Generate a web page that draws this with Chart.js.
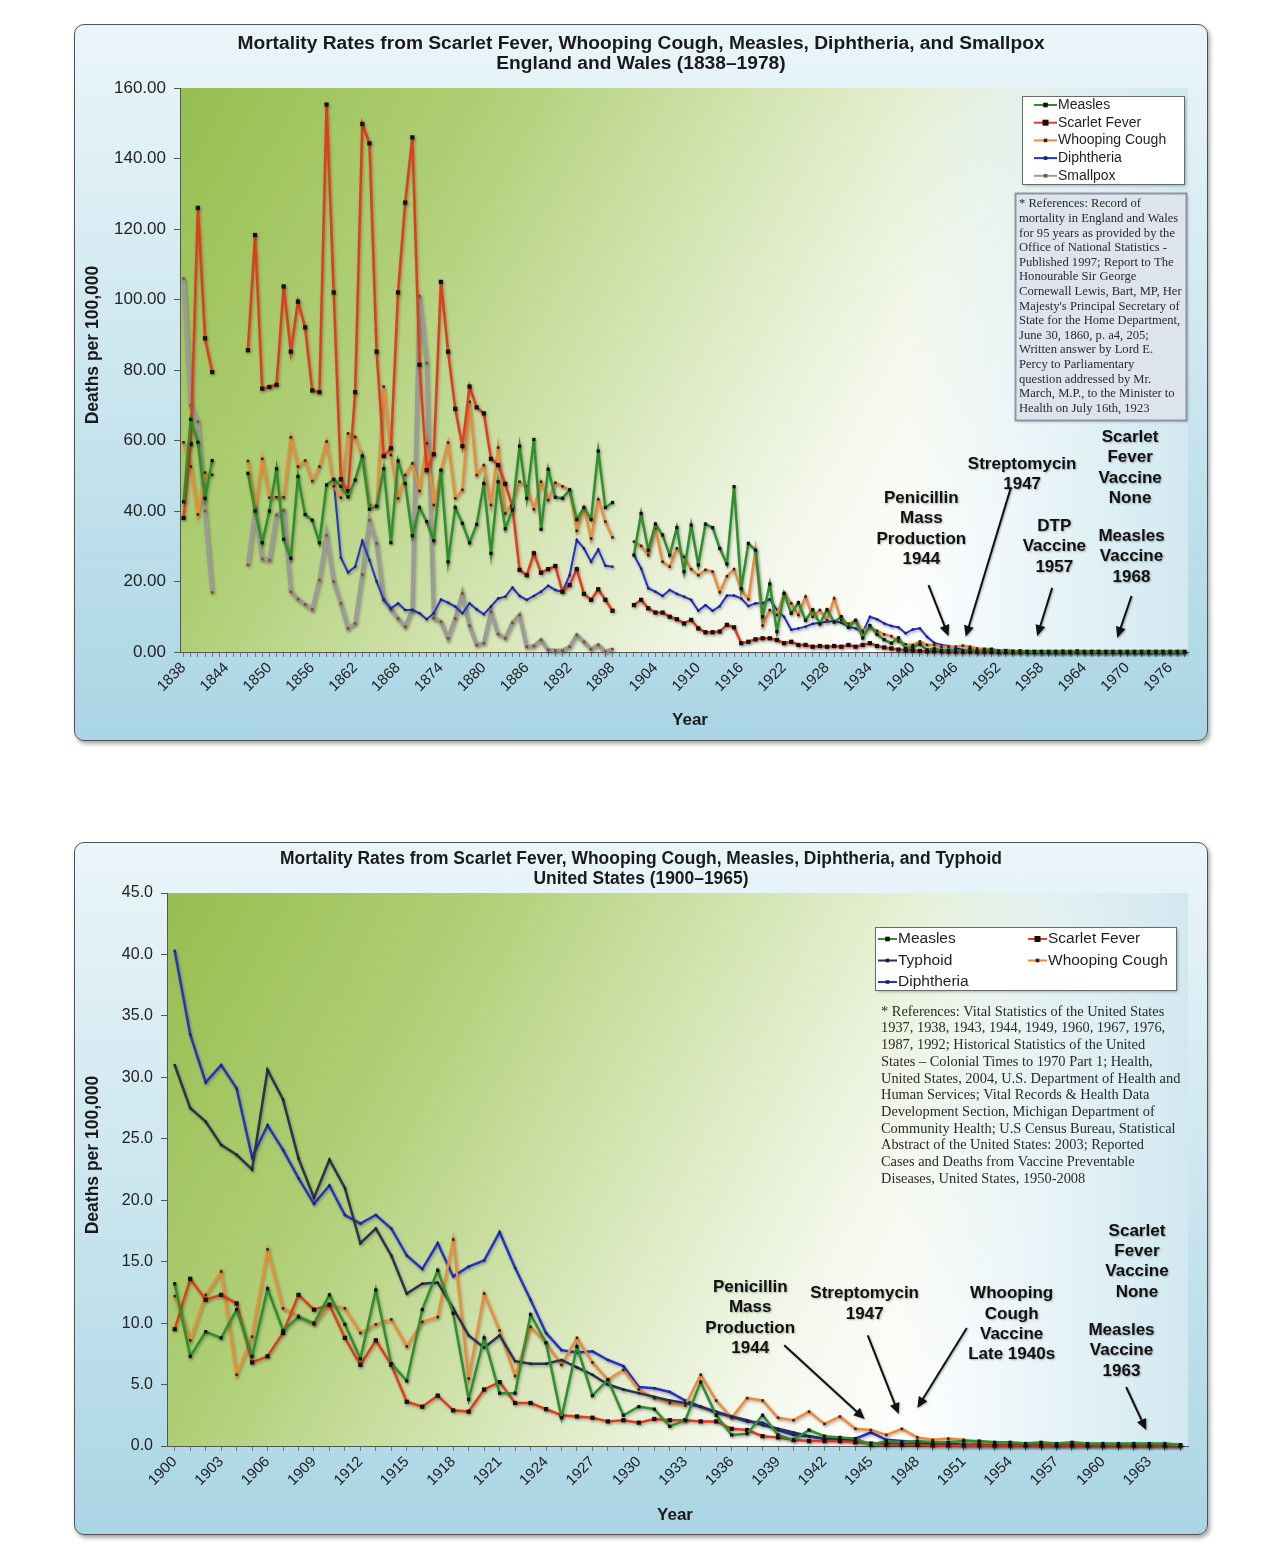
<!DOCTYPE html>
<html>
<head>
<meta charset="utf-8">
<title>Mortality Rates</title>
<script src="https://cdn.jsdelivr.net/npm/chart.js@4.4.1/dist/chart.umd.min.js"></script>
<style>
  body { margin: 0; background: #fff; }
  .panel { position: absolute; left: 74px; width: 1134px; box-sizing: border-box; border: 1.5px solid #505050; border-radius: 10px;
    background: linear-gradient(180deg, #eaf5f9 0%, #d2e9f1 40%, #aad5e4 100%);
    box-shadow: 2px 3px 4px rgba(0,0,0,0.35); }
  #p1 { top: 24px; height: 717px; }
  #p2 { top: 842px; height: 693px; }
  canvas { position: absolute; left: 74px; }
</style>
</head>
<body>
<div class="panel" id="p1"></div>
<div class="panel" id="p2"></div>
<canvas id="ukChart" width="1134" height="717" style="top:24px"></canvas>
<canvas id="usChart" width="1134" height="693" style="top:842px"></canvas>
<script>
const FONT = '"Liberation Sans", Arial, sans-serif';
const SERIF = '"Liberation Serif", "DejaVu Serif", serif';

// ---- England and Wales, 1838-1978 (deaths per 100,000; null = no data) ----
const ukFirstYear = 1838;
const ukLastYear = 1978;

const ukMeasles = [
  42.6, 66, 59.5, 43.6, 54.3, null, null, null, null, 50.7,      // 1838-1847
  40, 31, 40, 52, 32, 26.6, 49.8, 39, 37.4, 31,                   // 1848-1857
  47.4, 49, 47, 44, 48.8, 55.6, 40.5, 41.4, 52, 31,               // 1858-1867
  54.2, 47.8, 33, 41, 37, 31.6, 51.6, 25.6, 41, 36.5,             // 1868-1877
  31, 36.2, 47.8, 28, 48.3, 35, 40.3, 58.4, 43.6, 60.3,           // 1878-1887
  34.8, 51.8, 43.9, 43.6, 46, 37.6, 41, 37.6, 57, 41,             // 1888-1897
  42.4, null, null, 27.5, 39.3, 28.9, 36.3, 33.2, 27.5, 35.3,     // 1898-1907
  22.8, 36, 24.7, 36.3, 35.3, 29.4, 25, 46.9, 18, 30.8,           // 1908-1917
  28.9, 10, 19.3, 5.8, 16.6, 11, 14, 9, 12, 8,                    // 1918-1927
  12, 8.5, 10, 7, 9, 4, 7.5, 5, 3.5, 2.5,                         // 1928-1937
  4, 1, 1.5, 2.2, 0.6, 0.9, 0.5, 0.5, 0.4, 0.3,                   // 1938-1947
  0.8, 0.2, 0.5, 0.8, 0.1, 0.4, 0.1, 0.3, 0.1, 0.1,               // 1948-1957
  0.1, 0.1, 0.1, 0.2, 0.1, 0.3, 0.1, 0.1, 0.1, 0.1,               // 1958-1967
  0.1, 0.05, 0.05, 0.05, 0.05, 0.05, 0.05, 0.05, 0.05, 0.05,      // 1968-1977
  0.05                                                            // 1978
];
const ukScarletFever = [
  38, 59, 126, 89, 79.4, null, null, null, null, 85.6,
  118.3, 74.7, 75.2, 75.8, 103.7, 85.2, 99.4, 92.1, 74.2, 73.7,
  155.3, 102, 49, 45.6, 73.7, 149.8, 144.3, 85.2, 55.6, 57.8,
  102, 127.5, 146, 81.5, 51.6, 56.1, 105, 85.2, 69, 58.4,
  75.3, 69.4, 67.7, 54.8, 53, 47.7, 41.2, 23.3, 21.8, 28,
  22.5, 23.5, 24.4, 17.1, 19, 23.5, 16.5, 14.8, 17.8, 14.8,
  11.7, null, null, 13.3, 14.8, 12.4, 11.2, 11.2, 10, 9.3,
  8.1, 9.1, 6.7, 5.6, 5.6, 5.8, 7.7, 7, 2.5, 2.9,
  3.6, 3.9, 3.9, 3.4, 2.5, 2.9, 2, 2, 1.5, 1.7,
  1.5, 1.7, 1.5, 2, 1.5, 2, 2.5, 1.7, 1.3, 1,
  0.7, 0.5, 0.5, 0.3, 0.2, 0.2, 0.2, 0.1, 0.1, 0.1,
  0.1, 0.1, 0.1, 0.05, 0.05, 0.05, 0.05, 0.05, 0.05, 0.05,
  0.05, 0.05, 0.05, 0.05, 0.05, 0.05, 0.05, 0.05, 0.05, 0.05,
  0.05, 0.05, 0.05, 0.05, 0.05, 0.05, 0.05, 0.05, 0.05, 0.05,
  0.05
];
const ukWhoopingCough = [
  59.5, 52.6, 39, 50.9, 50.3, null, null, null, null, 54.2,
  40.8, 54.8, 43.8, 43.9, 43.9, 60.9, 52.6, 54.3, 48.5, 52.6,
  59.7, 47, 43.8, 62, 61, 55.4, 41.7, 41.4, 75.3, 55.9,
  43.6, 50.2, 53.5, 45.7, 59.2, 41.7, 51.6, 59.4, 43.6, 46,
  71, 50.2, 53, 41.7, 58, 39.3, 42.4, 48.3, 47, 40.5,
  48.3, 43.1, 48, 47, 46, 34.4, 41, 32.2, 43.3, 37,
  32.5, null, null, 31.3, 30.1, 27.5, 35.1, 25.6, 24.2, 29.4,
  27, 23.5, 21.8, 23.3, 22.8, 17, 21.5, 23.5, 17.6, 15,
  28.9, 7.5, 11.9, 10.5, 16.8, 13.8, 10.5, 15.7, 10, 11.9,
  9, 15.2, 9, 8, 9, 6, 7, 6, 5, 4.5,
  3, 2.2, 2, 3, 2, 2, 1.5, 1.5, 1.5, 1.8,
  1.5, 1, 0.9, 0.8, 0.4, 0.5, 0.3, 0.2, 0.2, 0.2,
  0.1, 0.1, 0.05, 0.05, 0.05, 0.05, 0.05, 0.05, 0.05, 0.05,
  0.05, 0.05, 0.05, 0.05, 0.05, 0.05, 0.05, 0.05, 0.05, 0.05,
  0.05
];
const ukDiphtheria = [
  null, null, null, null, null, null, null, null, null, null,
  null, null, null, null, null, null, null, null, null, null,
  null, 48.8, 26.8, 22.6, 24.2, 31.5, 26.1, 20, 14.8, 12.4,
  13.8, 11.9, 11.9, 11, 9.3, 11, 14.9, 14, 12.9, 11,
  13.8, 12.1, 10.7, 12.9, 15.2, 15.7, 18.3, 15.9, 14.8, 15.9,
  17.1, 18.8, 17.6, 17.1, 21.8, 31.8, 29.4, 25.6, 29.1, 24.5,
  24.2, null, null, 27.5, 23.7, 18.1, 17.1, 15.9, 17.6, 16.5,
  15.7, 14.8, 11.7, 13.3, 11.7, 13, 16, 16, 15.2, 13,
  13.8, 13.8, 15, 12, 10, 6.3, 6.7, 7.2, 8, 8.3,
  8.6, 8.8, 8.3, 7.2, 6.7, 5.5, 10, 9.3, 8.1, 7.4,
  7, 5.3, 6.4, 6.7, 4.3, 2.6, 2, 1.7, 1.2, 0.6,
  0.4, 0.2, 0.1, 0.05, 0.05, 0.05, 0.05, 0.05, 0.05, 0.05,
  0.05, 0.05, 0.05, 0.05, 0.05, 0.05, 0.05, 0.05, 0.05, 0.05,
  0.05, 0.05, 0.05, 0.05, 0.05, 0.05, 0.05, 0.05, 0.05, 0.05,
  0.05
];
const ukSmallpox = [
  106, 70, 65.3, 40, 16.9, null, null, null, null, 24.7,
  40, 26.4, 26.1, 38.9, 40.1, 17.1, 15, 13.5, 12.1, 20.4,
  33.1, 20, 13.8, 6.7, 8.1, 22, 37.4, 30.8, 14.9, 12.1,
  9.5, 7.2, 12, 101, 82, 9.6, 8.6, 3.9, 9.5, 16.6,
  7.5, 2, 2.5, 11.4, 5.1, 3.9, 8.3, 10.5, 1.5, 1.7,
  3.4, 0.6, 0.4, 0.4, 1.5, 4.8, 2.9, 0.8, 2, 0.1,
  0.8
];

// ---- United States, 1900-1965 ----
const usFirstYear = 1900;
const usLastYear = 1965;

const usMeasles = [
  13.2, 7.3, 9.3, 8.8, 11.1, 7.3, 12.8, 9.4, 10.5, 10,            // 1900-1909
  12.3, 9.9, 7.1, 12.7, 6.7, 5.3, 11.1, 14.3, 10.8, 3.8,          // 1910-1919
  8.8, 4.3, 4.3, 10.7, 8.4, 2.3, 8.1, 4.1, 5.4, 2.5,              // 1920-1929
  3.2, 3, 1.6, 2.1, 5.2, 2.5, 0.9, 1, 2.5, 0.9,                   // 1930-1939
  0.5, 1.3, 0.8, 0.7, 0.6, 0.1, 0.4, 0.3, 0.4, 0.3,               // 1940-1949
  0.3, 0.4, 0.4, 0.3, 0.3, 0.2, 0.3, 0.2, 0.3, 0.2,               // 1950-1959
  0.2, 0.2, 0.2, 0.2, 0.2, 0.1                                    // 1960-1965
];
const usScarletFever = [
  9.5, 13.6, 11.9, 12.3, 11.6, 6.8, 7.3, 9.2, 12.3, 11.1,
  11.5, 8.8, 6.6, 8.6, 6.6, 3.6, 3.2, 4.1, 2.9, 2.8,
  4.6, 5.2, 3.5, 3.5, 3, 2.5, 2.4, 2.3, 2, 2.1,
  1.9, 2.2, 2.1, 2.1, 2, 2, 1.4, 1.3, 0.8, 0.7,
  0.5, 0.4, 0.4, 0.4, 0.3, 0.2, 0.1, 0.1, 0.1, 0.05,
  0.05, 0.05, 0.05, 0.05, 0.05, 0.05, 0.05, 0.05, 0.05, 0.05,
  0.05, 0.05, 0.05, 0.05, 0.05, 0.05
];
const usTyphoid = [
  31, 27.5, 26.4, 24.5, 23.7, 22.5, 30.6, 28.2, 23.4, 20.2,
  23.3, 21, 16.5, 17.7, 15.5, 12.4, 13.2, 13.3, 11.2, 9,
  8, 9, 6.9, 6.7, 6.7, 7, 6.4, 5.8, 5, 4.6,
  4.3, 4, 3.7, 3.5, 3.2, 2.7, 2.4, 2.1, 1.7, 1.4,
  1.1, 0.8, 0.6, 0.5, 0.4, 0.2, 0.2, 0.2, 0.1, 0.1,
  0.1, 0.05, 0.05, 0.05, 0.05, 0.05, 0.05, 0.05, 0.05, 0.05,
  0.05, 0.05, 0.05, 0.05, 0.05, 0.05
];
const usWhoopingCough = [
  12.2, 8.6, 12.3, 14.2, 5.8, 8.9, 16, 11.2, 10.6, 9.9,
  11.5, 11.2, 9.2, 9.9, 10.3, 8.1, 10.1, 10.5, 16.8, 5.5,
  12.4, 9.4, 5.7, 9.7, 8.4, 6.6, 8.8, 6.8, 5.4, 6.2,
  4.6, 3.9, 3.5, 3.3, 5.8, 3.7, 2.3, 3.9, 3.7, 2.3,
  2.1, 2.8, 1.8, 2.4, 1.4, 1.3, 0.9, 1.4, 0.7, 0.5,
  0.6, 0.5, 0.3, 0.2, 0.2, 0.2, 0.1, 0.1, 0.1, 0.1,
  0.1, 0.1, 0.1, 0.05, 0.05, 0.05
];
const usDiphtheria = [
  40.3, 33.5, 29.6, 31, 29.1, 23.5, 26.1, 24.1, 21.8, 19.7,
  21.2, 18.8, 18.1, 18.8, 17.7, 15.5, 14.4, 16.5, 13.8, 14.6,
  15.1, 17.4, 14.5, 11.9, 9.2, 7.8, 7.6, 7.7, 7, 6.5,
  4.8, 4.7, 4.4, 3.7, 3.2, 2.8, 2.4, 2, 1.9, 1.3,
  0.9, 0.8, 0.6, 0.6, 0.6, 1.1, 0.5, 0.4, 0.3, 0.2,
  0.2, 0.1, 0.1, 0.05, 0.05, 0.05, 0.05, 0.05, 0.05, 0.05,
  0.05, 0.05, 0.05, 0.05, 0.05, 0.05
];

const ukYears = [];
for (let yr = ukFirstYear; yr <= ukLastYear; yr++) ukYears.push(String(yr));
const usYears = [];
for (let yr = usFirstYear; yr <= usLastYear; yr++) usYears.push(String(yr));

const ukRefs = [
  '* References: Record of',
  'mortality in England and Wales',
  'for 95 years as provided by the',
  'Office of National Statistics -',
  'Published 1997; Report to The',
  'Honourable Sir George',
  'Cornewall Lewis, Bart, MP, Her',
  "Majesty's Principal Secretary of",
  'State for the Home Department,',
  'June 30, 1860, p. a4, 205;',
  'Written answer by Lord E.',
  'Percy to Parliamentary',
  'question addressed by Mr.',
  'March, M.P., to the Minister to',
  'Health on July 16th, 1923'
];
const usRefs = [
  '* References: Vital Statistics of the United States',
  '1937, 1938, 1943, 1944, 1949, 1960, 1967, 1976,',
  '1987, 1992; Historical Statistics of the United',
  'States \u2013 Colonial Times to 1970 Part 1; Health,',
  'United States, 2004, U.S. Department of Health and',
  'Human Services; Vital Records & Health Data',
  'Development Section, Michigan Department of',
  'Community Health; U.S Census Bureau, Statistical',
  'Abstract of the United States: 2003; Reported',
  'Cases and Deaths from Vaccine Preventable',
  'Diseases, United States, 1950-2008'
];

// annotation text anchored in (year, value) space
const ukNotes = [
  { lines: ['Penicillin', 'Mass', 'Production', '1944'], at: [1941.2, 43.7], arrow: [[1942.2, 19], [1945, 4.5]] },
  { lines: ['Streptomycin', '1947'], at: [1955.3, 53.3], arrow: [[1953.7, 46.5], [1947.4, 4.3]] },
  { lines: ['Scarlet', 'Fever', 'Vaccine', 'None'], at: [1970.4, 61] },
  { lines: ['DTP', 'Vaccine', '1957'], at: [1959.8, 35.7], arrow: [[1959.5, 18.2], [1957.4, 4.5]] },
  { lines: ['Measles', 'Vaccine', '1968'], at: [1970.6, 32.9], arrow: [[1970.6, 15.9], [1968.6, 4]] }
];
const usNotes = [
  { lines: ['Penicillin', 'Mass', 'Production', '1944'], at: [1937.2, 12.9], arrow: [[1939.4, 8.2], [1944.6, 2.2]] },
  { lines: ['Streptomycin', '1947'], at: [1944.6, 12.4], arrow: [[1944.8, 9], [1946.8, 2.6]] },
  { lines: ['Whooping', 'Cough', 'Vaccine', 'Late 1940s'], at: [1954.1, 12.4], arrow: [[1951.2, 9.6], [1948, 3.1]] },
  { lines: ['Scarlet', 'Fever', 'Vaccine', 'None'], at: [1962.2, 17.5] },
  { lines: ['Measles', 'Vaccine', '1963'], at: [1961.2, 9.4], arrow: [[1961.5, 4.8], [1962.8, 1.3]] }
];

const plotBackground = {
  id: 'plotBackground',
  beforeDraw(chart) {
    const { ctx, chartArea: a } = chart;
    const w = a.right - a.left, h = a.bottom - a.top;
    ctx.save();
    const g = ctx.createLinearGradient(a.left, a.top, a.left + w * 0.8, a.top + h * 0.8);
    g.addColorStop(0, '#96be50');
    g.addColorStop(0.3, '#b0cf76');
    g.addColorStop(0.58, '#d7e6b8');
    g.addColorStop(0.82, '#f4f8ed');
    g.addColorStop(1, '#ffffff');
    ctx.fillStyle = g;
    ctx.fillRect(a.left, a.top, w, h);
    const b = ctx.createLinearGradient(a.left + w * 0.72, 0, a.right, 0);
    b.addColorStop(0, 'rgba(205,230,239,0)');
    b.addColorStop(1, 'rgba(205,230,239,0.9)');
    ctx.fillStyle = b;
    ctx.fillRect(a.left, a.top, w, h);
    ctx.restore();
  }
};

const lineShadow = {
  id: 'lineShadow',
  beforeDatasetsDraw(chart) {
    const c = chart.ctx;
    c.save();
    c.shadowColor = 'rgba(0,0,0,0.3)';
    c.shadowBlur = 3;
    c.shadowOffsetX = 1;
    c.shadowOffsetY = 1.5;
  },
  afterDatasetsDraw(chart) {
    chart.ctx.restore();
  }
};

function drawArrow(ctx, x0, y0, x1, y1) {
  const ang = Math.atan2(y1 - y0, x1 - x0), hl = 11, hw = 5;
  const cos = Math.cos(ang), sin = Math.sin(ang);
  ctx.beginPath();
  ctx.moveTo(x0, y0);
  ctx.lineTo(x1 - hl * 0.8 * cos, y1 - hl * 0.8 * sin);
  ctx.stroke();
  ctx.beginPath();
  ctx.moveTo(x1, y1);
  ctx.lineTo(x1 - hl * cos + hw * sin, y1 - hl * sin - hw * cos);
  ctx.lineTo(x1 - hl * cos - hw * sin, y1 - hl * sin + hw * cos);
  ctx.closePath();
  ctx.fill();
}

function legendIcon(ctx, ds, lx, ly, len) {
  ctx.strokeStyle = ds.borderColor;
  ctx.lineWidth = 2;
  ctx.beginPath();
  ctx.moveTo(lx, ly);
  ctx.lineTo(lx + len, ly);
  ctx.stroke();
  ctx.fillStyle = ds.pointBackgroundColor;
  const r = Math.max(ds.pointRadius, 1.8);
  ctx.fillRect(lx + len / 2 - r, ly - r, r * 2, r * 2);
}

// titles, axis titles, legend, references and annotations
const decor = {
  id: 'decor',
  afterDraw(chart, args, o) {
    const { ctx, chartArea: a, scales: { x, y } } = chart;
    const first = o.firstYear;
    const px = yr => x.getPixelForValue(yr - first);
    ctx.save();
    ctx.fillStyle = '#1a1a1a';
    ctx.textAlign = 'center';
    ctx.textBaseline = 'middle';

    // title, sized to the width of its first line
    let size = 20;
    ctx.font = `bold ${size}px ${FONT}`;
    size = size * o.titleWidth / ctx.measureText(o.title[0]).width;
    ctx.font = `bold ${size.toFixed(2)}px ${FONT}`;
    o.title.forEach((t, i) => ctx.fillText(t, o.titleX, o.titleY + i * o.titleGap));

    ctx.font = `bold 17px ${FONT}`;
    ctx.fillText('Year', o.yearPos[0], o.yearPos[1]);
    ctx.save();
    ctx.translate(19, o.yTitleY);
    ctx.rotate(-Math.PI / 2);
    ctx.font = `bold 17.5px ${FONT}`;
    ctx.fillText('Deaths per 100,000', 0, 0);
    ctx.restore();

    // legend box
    const lg = o.legend;
    const bx = a.right - lg.right, by = a.top + lg.top;
    ctx.save();
    ctx.shadowColor = 'rgba(0,0,0,0.35)';
    ctx.shadowBlur = 3;
    ctx.shadowOffsetX = 1.5;
    ctx.shadowOffsetY = 1.5;
    ctx.fillStyle = '#ffffff';
    ctx.fillRect(bx, by, lg.w, lg.h);
    ctx.restore();
    ctx.strokeStyle = '#6a6a6a';
    ctx.lineWidth = 1;
    ctx.strokeRect(bx + 0.5, by + 0.5, lg.w, lg.h);
    ctx.font = `${lg.font}px ${FONT}`;
    ctx.textBaseline = 'middle';
    chart.data.datasets.forEach((ds, i) => {
      const col = i % lg.cols, row = Math.floor(i / lg.cols);
      const ix = bx + lg.iconX + col * lg.colGap, iy = by + lg.rowY + row * lg.rowGap;
      legendIcon(ctx, ds, ix, iy, lg.iconLen);
      ctx.fillStyle = '#1e1e1e';
      ctx.textAlign = 'left';
      ctx.fillText(ds.label, ix + lg.iconLen + 1, iy);
    });

    // references
    const rf = o.refs;
    const rx = a.right - rf.right, ry = a.top + rf.top;
    if (rf.box) {
      ctx.save();
      ctx.shadowColor = 'rgba(0,0,0,0.3)';
      ctx.shadowBlur = 3;
      ctx.shadowOffsetX = 1.5;
      ctx.shadowOffsetY = 1.5;
      ctx.fillStyle = '#dde4ee';
      ctx.fillRect(rx, ry, rf.w, rf.h);
      ctx.restore();
      ctx.strokeStyle = '#8c95a3';
      ctx.strokeRect(rx + 0.5, ry + 0.5, rf.w, rf.h);
    }
    ctx.font = `${rf.font}px ${SERIF}`;
    ctx.fillStyle = '#2a2a2a';
    ctx.textAlign = 'left';
    rf.lines.forEach((t, i) => ctx.fillText(t, rx + rf.padX, ry + rf.firstY + i * rf.gap));

    // annotations with arrows
    ctx.font = `bold 17px ${FONT}`;
    ctx.textAlign = 'center';
    ctx.fillStyle = '#111';
    ctx.strokeStyle = '#111';
    ctx.lineWidth = 2;
    ctx.shadowColor = 'rgba(0,0,0,0.3)';
    ctx.shadowBlur = 2;
    ctx.shadowOffsetX = 1;
    ctx.shadowOffsetY = 1;
    o.notes.forEach(n => {
      const tx = px(n.at[0]), ty = y.getPixelForValue(n.at[1]);
      n.lines.forEach((t, i) => ctx.fillText(t, tx, ty + i * o.noteGap));
      if (n.arrow) {
        const [p0, p1] = n.arrow;
        drawArrow(ctx, px(p0[0]), y.getPixelForValue(p0[1]), px(p1[0]), y.getPixelForValue(p1[1]));
      }
    });
    ctx.restore();
  }
};

function seriesStyle(label, data, color, width, radius, pointColor, style) {
  return {
    label: label,
    data: data,
    borderColor: color,
    backgroundColor: color,
    borderWidth: width,
    pointRadius: radius,
    pointStyle: style || 'rect',
    pointBackgroundColor: pointColor,
    pointBorderColor: pointColor,
    pointBorderWidth: 0,
    tension: 0,
    spanGaps: false,
    clip: false
  };
}

function axisOptions(firstYear, step, yMax, yStep, digits, yWidth, yFont) {
  return {
    x: {
      type: 'category',
      offset: true,
      afterFit: s => { s.height = 89; },
      grid: { display: true, drawOnChartArea: false, drawTicks: true, tickLength: 5, color: '#777', offset: false },
      border: { display: true, color: '#555', width: 1 },
      ticks: {
        autoSkip: false,
        minRotation: 45,
        maxRotation: 45,
        padding: 2,
        color: '#222',
        font: { family: FONT, size: 15 },
        callback: function (value, index) {
          return index % step === 0 ? String(firstYear + index) : '';
        }
      }
    },
    y: {
      min: 0,
      max: yMax,
      afterFit: s => { s.width = yWidth; },
      grid: { display: true, drawOnChartArea: false, drawTicks: true, tickLength: 6, color: '#555' },
      border: { display: true, color: '#555', width: 1 },
      ticks: {
        stepSize: yStep,
        padding: 8,
        color: '#222',
        font: { family: FONT, size: yFont },
        callback: v => v.toFixed(digits)
      }
    }
  };
}

function generateUkChart() {
  const ctx = document.getElementById('ukChart').getContext('2d');
  new Chart(ctx, {
    type: 'line',
    data: {
      labels: ukYears,
      datasets: [
        seriesStyle('Measles', ukMeasles, '#2f8f2c', 2.5, 2.3, '#111'),
        seriesStyle('Scarlet Fever', ukScarletFever, '#e53a1e', 2.5, 3, '#1c0c0a'),
        seriesStyle('Whooping Cough', ukWhoopingCough, '#ef8b3b', 2.5, 1.8, '#3b1e0c'),
        seriesStyle('Diphtheria', ukDiphtheria, '#2633c6', 2, 1.6, '#18207a'),
        seriesStyle('Smallpox', ukSmallpox, '#9b9b97', 4, 1.8, '#8a4a1e')
      ]
    },
    options: {
      responsive: false,
      animation: false,
      events: [],
      layout: { padding: { top: 64, right: 20, left: 0, bottom: 0 } },
      scales: axisOptions(ukFirstYear, 6, 160, 20, 2, 106, 17),
      plugins: {
        legend: { display: false },
        tooltip: { enabled: false },
        decor: {
          firstYear: ukFirstYear,
          title: ['Mortality Rates from Scarlet Fever, Whooping Cough, Measles, Diphtheria, and Smallpox', 'England and Wales (1838\u20131978)'],
          titleWidth: 807, titleX: 567, titleY: 20, titleGap: 19.5,
          yearPos: [616, 696], yTitleY: 321,
          legend: { right: 166, top: 8, w: 162, h: 88, cols: 1, colGap: 0, iconX: 12, iconLen: 23, rowY: 9, rowGap: 17.7, font: 14 },
          refs: { box: true, right: 173, top: 105, w: 171, h: 227, padX: 4, firstY: 11, gap: 14.6, font: 12.6, lines: ukRefs },
          notes: ukNotes, noteGap: 20.5
        }
      }
    },
    plugins: [plotBackground, lineShadow, decor]
  });
}

function generateUsChart() {
  const ctx = document.getElementById('usChart').getContext('2d');
  new Chart(ctx, {
    type: 'line',
    data: {
      labels: usYears,
      datasets: [
        seriesStyle('Measles', usMeasles, '#2f8f2c', 2.5, 2.3, '#111'),
        seriesStyle('Scarlet Fever', usScarletFever, '#e53a1e', 2.5, 3, '#1c0c0a'),
        seriesStyle('Typhoid', usTyphoid, '#2c3350', 2.5, 1.6, '#1a1f33'),
        seriesStyle('Whooping Cough', usWhoopingCough, '#ef8b3b', 2.5, 1.8, '#3b1e0c'),
        seriesStyle('Diphtheria', usDiphtheria, '#2633c6', 2.5, 1.6, '#18207a')
      ]
    },
    options: {
      responsive: false,
      animation: false,
      events: [],
      layout: { padding: { top: 51, right: 20, left: 0, bottom: 0 } },
      scales: axisOptions(usFirstYear, 3, 45, 5, 1, 93, 16),
      plugins: {
        legend: { display: false },
        tooltip: { enabled: false },
        decor: {
          firstYear: usFirstYear,
          title: ['Mortality Rates from Scarlet Fever, Whooping Cough, Measles, Diphtheria, and Typhoid', 'United States (1900\u20131965)'],
          titleWidth: 722, titleX: 567, titleY: 17, titleGap: 20,
          yearPos: [601, 673], yTitleY: 313,
          legend: { right: 313, top: 34, w: 301, h: 63, cols: 2, colGap: 150, iconX: 3, iconLen: 19, rowY: 12, rowGap: 21.5, font: 15.5 },
          refs: { box: false, right: 307, top: 119, w: 0, h: 0, padX: 0, firstY: 0, gap: 16.7, font: 14.4, lines: usRefs },
          notes: usNotes, noteGap: 20.3
        }
      }
    },
    plugins: [plotBackground, lineShadow, decor]
  });
}

generateUkChart();
generateUsChart();
</script>
</body>
</html>
